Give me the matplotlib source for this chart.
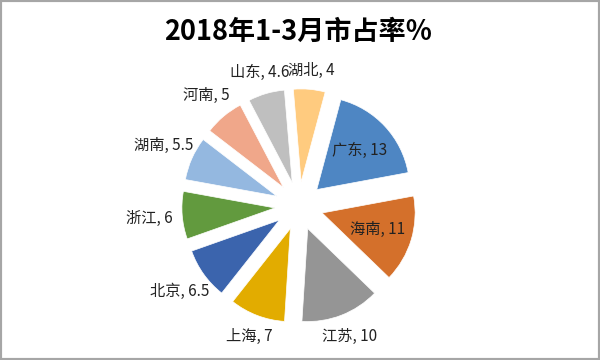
import numpy as np
import matplotlib
matplotlib.use('Agg')
import matplotlib.pyplot as plt
from matplotlib.patches import Rectangle

plt.rcParams['font.family'] = ['Noto Sans CJK SC', 'DejaVu Sans']

# data
title = '2018年1-3月市占率%'
provinces = ['广东', '海南', '江苏', '上海', '北京', '浙江', '湖南', '河南', '山东', '湖北']
shares = [13, 11, 10, 7, 6.5, 6, 5.5, 5, 4.6, 4]
colors = ['#4E86C3', '#D4702B', '#959595', '#E2AC00', '#3B64AD',
          '#629A3E', '#94B8E0', '#F0A78A', '#BFBFBF', '#FFCB7F']
inside = ['广东', '海南']

fig = plt.figure(figsize=(6, 3.6), dpi=100)
ax = fig.add_axes([0, 0, 1, 1])

wedges, _ = ax.pie(shares, colors=colors, startangle=75, counterclock=False,
                   explode=[0.26] * len(shares), radius=1,
                   wedgeprops=dict(edgecolor='white', linewidth=0.5))

# pie centre at (299, 206) px, radius 93 px
r_px = 93.0
ax.set_xlim(-299 / r_px, 301 / r_px)
ax.set_ylim(-154 / r_px, 206 / r_px)
ax.axis('off')

for w, name, val in zip(wedges, provinces, shares):
    ang = np.deg2rad((w.theta1 + w.theta2) / 2)
    cx, cy = w.center
    if name in inside:
        d = 0.62
    else:
        d = 1.19 + 0.16 * abs(np.cos(ang))
    ax.text(cx + d * np.cos(ang), cy + d * np.sin(ang), f'{name}, {val:g}',
            ha='center', va='center', fontsize=11, color='#222222')

fig.text(0.496, 0.911, title, ha='center', va='center',
         fontsize=19.5, fontweight='bold', color='black')

fig.patches.append(Rectangle((0, 0), 1, 1, transform=fig.transFigure,
                             fill=False, edgecolor='#A6A6A6', linewidth=3))

fig.savefig('out.png', dpi=100)
